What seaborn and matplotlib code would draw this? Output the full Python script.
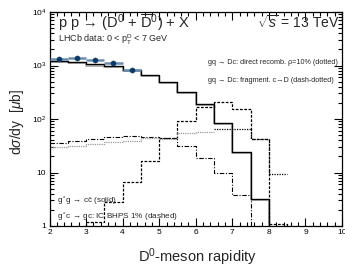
import numpy as np
import pandas as pd
import matplotlib
matplotlib.use('Agg')
import matplotlib.pyplot as plt
import seaborn as sns
from matplotlib.ticker import MultipleLocator, LogLocator, FuncFormatter, NullFormatter

# Bin edges (rapidity), 0.5 wide
edges = [2.0, 2.5, 3.0, 3.5, 4.0, 4.5, 5.0, 5.5, 6.0, 6.5, 7.0, 7.5, 8.0, 8.5, 9.0]

# g*g -> c cbar (solid)
solid = [1210, 1150, 1050, 975, 830, 660, 490, 316, 190, 84, 24, 3.2, 0.01, 0.01]
# g*c -> gc: IC BHPS 1% (dashed)
dashed = [0.3, 0.3, 1.17, 2.85, 6.7, 16.6, 45, 93, 166, 210, 154, 42, 1.08, 0.01]
# gq -> Dc: fragment. c->D (dash-dotted)
dashdot = [35, 39, 42, 45.5, 48, 46.5, 44, 31, 19, 9.7, 3.75, 0.01, 0.01, 0.01]
# gq -> Dc: direct recomb. rho=10% (dotted), grey part and black part
dotted_lo = [30, 31.7, 34, 36.6, 39, 45, 43, 54, 58]
dotted_hi = [65, 65, 42, 9.4]

# LHCb data
data_x = [2.25, 2.75, 3.25, 3.75, 4.25]
data_y = [1300, 1370, 1270, 1120, 835]

sns.set_style('ticks')
plt.rcParams['font.family'] = ['Liberation Sans', 'DejaVu Sans']
plt.rcParams['mathtext.fontset'] = 'custom'
plt.rcParams['mathtext.rm'] = 'Liberation Sans'
plt.rcParams['mathtext.it'] = 'Liberation Sans:italic'

W, H = 345, 265
fig = plt.figure(figsize=(W / 100, H / 100), dpi=100)
ax = fig.add_axes([49.5 / W, 1 - 226 / H, (342 - 49.5) / W, (226 - 12) / H])
ax.set_yscale('log')


def stairs(vals, bin_edges, **kw):
    e = [float(b) for b in bin_edges]
    centers = [(a + b) / 2 for a, b in zip(e[:-1], e[1:])]
    df = pd.DataFrame({'y': centers, 'w': list(vals)})
    sns.histplot(data=df, x='y', weights='w', bins=e, element='step', fill=False, ax=ax, **kw)


stairs([v * 0.95 for v in solid], edges, color='#a8a8a8', linewidth=1.2)
stairs(solid, edges, color='black', linewidth=1.0)
stairs(dashed, edges, color='black', linewidth=0.9, linestyle=(0, (2.2, 1.2)))
stairs(dashdot, edges, color='black', linewidth=0.8, linestyle=(0, (4, 1.5, 1, 1.5)))
stairs(dotted_lo, edges[:len(dotted_lo) + 1], color='#9a9a9a', linewidth=0.9, linestyle=(0, (1, 0.8)))
stairs(dotted_hi, edges[9:9 + len(dotted_hi) + 1], color='black', linewidth=0.9, linestyle=(0, (1, 1)))

ax.errorbar(data_x, data_y, xerr=0.25, fmt='none', ecolor='#6a8cb0', elinewidth=1.8, zorder=4)
sns.scatterplot(x=data_x, y=data_y, color='#0c3a66', edgecolor='#0c3a66', s=14, ax=ax, zorder=5)

ax.set_xlim(2, 10)
ax.set_ylim(1, 1e4)
ax.set_xlabel('')
ax.set_ylabel('')

ax.xaxis.set_major_locator(MultipleLocator(1))
ax.xaxis.set_minor_locator(MultipleLocator(0.2))
ax.yaxis.set_major_locator(LogLocator(base=10, numticks=10))
ax.yaxis.set_minor_locator(LogLocator(base=10, subs=np.arange(2, 10), numticks=20))
ax.yaxis.set_minor_formatter(NullFormatter())


def ylab(v, pos):
    if v == 1:
        return '1'
    if v == 10:
        return '10'
    return r'10$^{%d}$' % int(round(np.log10(v)))


ax.yaxis.set_major_formatter(FuncFormatter(ylab))
ax.tick_params(which='both', direction='in', top=True, right=True, width=0.8, colors='black',
               labelsize=6)
ax.tick_params(which='major', length=6, pad=2.5)
ax.tick_params(which='minor', length=3)
for s in ax.spines.values():
    s.set_linewidth(0.9)
    s.set_color('black')

fs_top = 5.2
fs_bot = 5.9
fig.text(58 / W, 1 - 28 / H, r'p p $\!\rightarrow\!$ (D$^0$ + $\overline{\mathrm{D}}^0$) + X',
         fontsize=10.5, va='baseline')
fig.text(339 / W, 1 - 28 / H, r'$\sqrt{s}$ = 13 TeV', fontsize=10, va='baseline', ha='right')
fig.text(58 / W, 1 - 42.5 / H, r'LHCb data: 0 < p$_\mathrm{T}^\mathrm{D}$ < 7 GeV', fontsize=6.5, va='baseline')
fig.text(208 / W, 1 - 64 / H, 'gq → Dc: direct recomb. ρ=10% (dotted)', fontsize=fs_top, va='baseline')
fig.text(208 / W, 1 - 82 / H, 'gq → Dc: fragment. c→D (dash-dotted)', fontsize=fs_top, va='baseline')
fig.text(57 / W, 1 - 204 / H, r'g$^*$g → c$\bar{\mathrm{c}}$ (solid)', fontsize=fs_bot, va='baseline')
fig.text(57 / W, 1 - 219.5 / H, r'g$^*$c → gc: IC BHPS 1% (dashed)', fontsize=fs_bot, va='baseline')

fig.text(197 / W, 1 - 262.5 / H, r'D$^0$-meson rapidity', fontsize=10.5, va='baseline', ha='center')
fig.text(17.5 / W, 1 - 122 / H, r'd$\sigma$/dy  [$\mu$b]', fontsize=10, va='center', ha='center', rotation=90)

fig.savefig('out.png', dpi=100)
